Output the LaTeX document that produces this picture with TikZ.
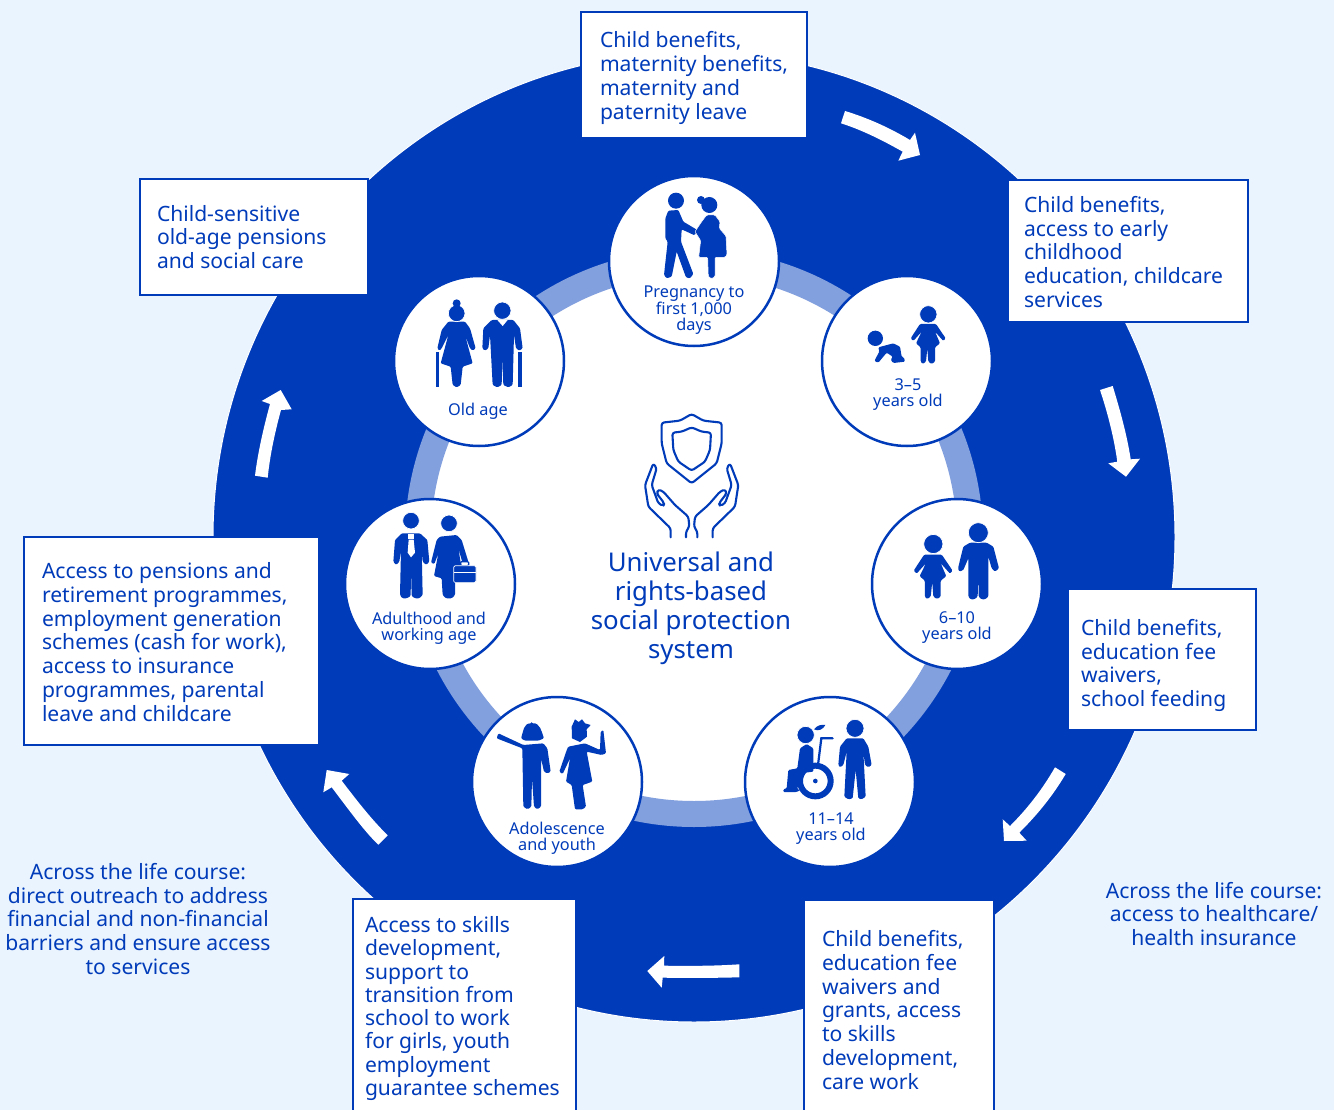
\documentclass[tikz,border=0pt]{standalone}
\usepackage{fontspec}
\setmainfont{Noto Sans}
\definecolor{bgc}{HTML}{EAF4FE}
\definecolor{blu}{HTML}{003BB9}
\definecolor{rng}{HTML}{829FDE}
\newcommand\ibox[7]{%
\pgfmathsetmacro\ibw{#4-#2}\pgfmathsetmacro\ibh{#5-#3}\pgfmathsetmacro\ibx{(#2+#4)/2}\pgfmathsetmacro\iby{(#3+#5)/2}%
\node[infobox,minimum width=\ibw pt,minimum height=\ibh pt] (#1) at (\ibx,\iby) {\parbox[c]{\ibw pt}{\leftskip=#6pt \rightskip=0pt plus 1fil\relax\parindent=0pt #7}};}
\newcommand\kidgirl[3]{%
\begin{scope}[shift={(#1,#2)},scale=#3]
\fill[icon] (-25,29)--(23,29)--(52,72)--(45,80)--(20,52)--(35,87)--(20,99)--(20,142)--(10,149)--(0,142)--(-3,102)--(-7,142)--(-17,149)--(-23,142)--(-23,99)--(-37,87)--(-20,52)--(-45,80)--(-53,72)--cycle;
\fill[icon,head] (0,0) circle (26);
\end{scope}}
\tikzset{
 x=1pt,y=-1pt,
 infobox/.style={draw=blu,fill=white,line width=2.5pt,inner sep=0pt,outer sep=0pt,text=blu,font=\fontsize{21.1}{23.9}\selectfont},
 stage/.style={circle,draw=blu,fill=white,line width=2.5pt,minimum size=170pt,inner sep=0pt,outer sep=0pt},
 stagelabel/.style={text=blu,align=center,inner sep=0pt,font=\fontsize{16.3}{16.5}\selectfont},
 freetext/.style={text=blu,align=center,inner sep=0pt,font=\fontsize{21.1}{23.9}\selectfont},
 turn/.style={fill=white},
 icon/.style={fill=blu,rounded corners=1.1pt},
 head/.style={draw=white,line width=0.7pt},
 zoomed/.style={scale=0.33333},
 emblem/.style={draw=blu,line width=2.1pt,rounded corners=2.5pt,line cap=round,line join=round},
}
\begin{document}
\begin{tikzpicture}
\lineskiplimit=-8pt \normallineskiplimit=-8pt
\useasboundingbox (0,0) rectangle (1334,1110);
\fill[bgc] (0,0) rectangle (1334,1110);
% disc and ring
\path[fill=blu,draw=white,line width=1pt] (694,537) ellipse [x radius=481,y radius=485];
\fill[white] (694,538) circle (276);
\draw[rng,line width=26pt] (694,538) circle (276);
% arrows
\fill[turn] (845,111) .. controls (868,118) and (890,128) .. (910,140) -- (915,132.7) -- (920,155) -- (898.3,160.7) -- (902.7,151.7) .. controls (882,140) and (862,130) .. (841,123.3) -- cycle;
\fill[turn] (1112.7,386) .. controls (1120,410) and (1127,435) .. (1130.7,459.3) -- (1140,458.7) -- (1126,476.7) -- (1108.3,463.3) -- (1117.3,461.7) .. controls (1114,438) and (1108,414) .. (1100,390) -- cycle;
\fill[turn] (1065.7,774) .. controls (1052,797) and (1037,815) .. (1019.3,832.7) -- (1026.7,840.7) -- (1004,841) -- (1002.7,819.3) -- (1010,826) .. controls (1027,809) and (1042,790) .. (1055,767.3) -- cycle;
\fill[turn] (739.3,964.3) .. controls (715,966) and (690,966) .. (664,965.7) -- (664.3,956) -- (647.3,971) -- (661.7,987.7) -- (662.7,977.7) .. controls (690,978) and (715,978) .. (739.3,977.3) -- cycle;
\fill[turn] (378.3,844.7) .. controls (364,831) and (349,810) .. (331.7,787.3) -- (323.3,792.3) -- (326.7,770) -- (349.3,774) -- (341.7,780.7) .. controls (358,802) and (372,820) .. (387.7,835.3) -- cycle;
\fill[turn] (255,475.7) .. controls (258,452) and (263,430) .. (270,404) -- (261.7,401) -- (280.7,390) -- (291.7,409.3) -- (281,410) .. controls (275,432) and (270,455) .. (267.7,477.7) -- cycle;
% stages
\node[stage] (s1) at (694,261) {};
\node[stage] (s2) at (907,361) {};
\node[stage] (s3) at (957,584) {};
\node[stage] (s4) at (830,782) {};
\node[stage] (s5) at (557,782) {};
\node[stage] (s6) at (430,584) {};
\node[stage] (s7) at (479,361) {};
% stage labels
\node[stagelabel] (l1) at (694,310.5) {Pregnancy to\\first 1,000\\days};
\node[stagelabel] (l2) at (908,394.5) {3–5\\years old};
\node[stagelabel] (l3) at (957,627.5) {6–10\\years old};
\node[stagelabel] (l4) at (831,828.5) {11–14\\years old};
\node[stagelabel] (l5) at (557,838.5) {Adolescence\\and youth};
\node[stagelabel] (l6) at (429,628.5) {Adulthood and\\working age};
\node[stagelabel] (l7) at (478,411) {Old age};
% pregnancy icon
\begin{scope}[shift={(600,170)},zoomed]
\fill[icon] (196,145)--(205,122)--(235,120)--(250,155)--(292,180)--(284,196)--(245,178)--(243,215)--(280,312)--(270,325)--(258,322)--(230,245)--(215,320)--(200,325)--(192,315)--(203,215)--(196,205)--cycle;
\fill[icon,draw=white,line width=0.5pt] (305,155)--(320,135)--(345,135)--(360,155)--(358,175)--(378,198)--(381,255)--(375,262)--(345,262)--(345,320)--(335,326)--(325,320)--(323,262)--(296,262)--(302,212)--(285,185)--cycle;
\fill[icon] (228,92) circle (24);
\fill[icon] (328,105) circle (24);
\fill[icon] (303,90) circle (12);
\end{scope}
% toddler icon
\begin{scope}[shift={(600,170)},zoomed]
\fill[icon] (835,532)--(880,520)--(900,530)--(905,560)--(912,563)--(915,575)--(880,579)--(872,570)--(878,560)--(860,548)--(835,578)--(823,573)--(838,545)--cycle;
\fill[icon] (826,505) circle (23);
\kidgirl{985}{433}{1}
\end{scope}
% 6-10 icon
\begin{scope}[shift={(620,400)},zoomed]
\kidgirl{940}{432}{1.11}
\fill[icon] (1030,440)--(1050,428)--(1100,428)--(1120,440)--(1137,505)--(1125,515)--(1115,505)--(1105,470)--(1105,590)--(1095,598)--(1085,598)--(1076,590)--(1075,522)--(1073,590)--(1063,598)--(1052,598)--(1045,590)--(1045,475)--(1030,510)--(1018,515)--(1014,505)--cycle;
\fill[icon,head] (1075,398) circle (30);
\end{scope}
% 11-14 icon
\begin{scope}[shift={(460,690)},zoomed]
\fill[icon] (1140,170)--(1160,145)--(1210,145)--(1225,170)--(1235,225)--(1225,232)--(1215,225)--(1210,185)--(1217,320)--(1205,328)--(1195,325)--(1187,240)--(1178,325)--(1165,328)--(1153,320)--(1160,185)--(1150,225)--(1140,232)--(1135,225)--cycle;
\fill[icon,head] (1185,115) circle (27);
\fill[icon] (1020,175)--(1040,162)--(1060,175)--(1060,245)--(1020,250)--(1012,298)--(1022,300)--(1010,306)--(970,306)--(970,298)--(980,295)--(985,240)--(1012,235)--cycle;
\draw[blu,line width=6pt] (1066,273) circle (46);
\fill[blu] (1066,273) circle (7);
\draw[blu,line width=2.2pt,line cap=round] (1074,225) -- (1084,145) -- (1118,145);
\fill[blu] (1062,118) .. controls (1072,105) and (1085,103) .. (1096,105) .. controls (1090,118) and (1075,125) .. (1062,118) -- cycle;
\fill[icon,head] (1037,135) circle (26);
\end{scope}
% adolescence icon
\begin{scope}[shift={(460,690)},zoomed]
\fill[icon] (190,165)--(250,160)--(262,175)--(272,245)--(262,250)--(252,245)--(243,205)--(243,350)--(232,358)--(222,350)--(216,265)--(214,350)--(203,358)--(190,350)--(187,175)--(110,145)--(115,130)--cycle;
\fill[icon] (215,100) .. controls (240,98) and (245,125) .. (252,145) -- (235,152) -- (195,152) -- (183,145) .. controls (190,125) and (190,100) .. (215,100) -- cycle;
\fill[icon] (325,170)--(375,160)--(420,180)--(422,125)--(430,120)--(438,190)--(425,195)--(380,185)--(397,275)--(368,285)--(378,350)--(368,358)--(345,358)--(335,285)--(318,275)--(330,205)--(308,252)--(298,245)--(322,175)--cycle;
\fill[blu] (335,110)--(345,88)--(356,96)--(366,88)--(375,100)--(392,105)--(380,118)--(381,140)--(360,156)--(336,145)--cycle;
\end{scope}
% adulthood icon
\begin{scope}[shift={(340,270)},zoomed]
\fill[icon] (165,810)--(185,790)--(240,790)--(262,810)--(268,875)--(258,885)--(248,875)--(245,840)--(248,975)--(238,985)--(225,985)--(215,978)--(213,895)--(212,978)--(200,985)--(187,985)--(180,975)--(183,840)--(178,875)--(168,885)--(160,875)--cycle;
\fill[white] (205,792)--(222,792)--(222,806)--(205,806)--cycle;
\fill[white] (206,809)--(221,809)--(225,848)--(213,862)--(203,848)--cycle;
\fill[icon,head] (213,752) circle (25);
\fill[icon] (300,800)--(350,795)--(365,810)--(385,875)--(378,882)--(368,880)--(355,835)--(370,925)--(345,925)--(345,975)--(335,985)--(318,985)--(308,975)--(305,925)--(282,918)--(295,850)--(283,882)--(273,878)--(290,810)--cycle;
\fill[icon,head] (327,760) circle (25);
\draw[blu,line width=1.2pt,fill=white,rounded corners=1pt] (362,887) rectangle (386,875);
\draw[white,line width=0.7pt,fill=blu,rounded corners=1.5pt] (341,887) rectangle (408,938);
\draw[white,line width=0.7pt] (341,906) -- (408,906);
\end{scope}
% old age icon
\begin{scope}[shift={(340,270)},zoomed]
\fill[icon] (305,180)--(325,155)--(375,155)--(390,175)--(407,235)--(398,242)--(390,235)--(375,195)--(398,280)--(368,290)--(362,345)--(350,352)--(338,345)--(332,290)--(302,280)--(325,195)--(305,235)--(298,242)--(292,235)--cycle;
\fill[icon,head] (350,130) circle (25);
\fill[blu] (350,100) circle (12);
\draw[blu,line width=3.2pt] (292,247) -- (292,350);
\fill[icon] (430,175)--(455,150)--(520,150)--(540,175)--(548,235)--(538,242)--(528,235)--(522,195)--(518,345)--(505,352)--(490,345)--(487,265)--(485,345)--(472,352)--(458,345)--(450,195)--(445,235)--(435,242)--(427,235)--cycle;
\fill[white] (472,150)--(488,168)--(503,150)--cycle;
\fill[icon,head] (487,122) circle (26);
\draw[blu,line width=3.2pt] (540,247) -- (540,350);
\end{scope}
% emblem
\begin{scope}[shift={(620,400)},zoomed]
\draw[emblem] (215,42) -- (180,62) -- (125,68) -- (125,130) -- (140,190) -- (215,250) -- (290,190) -- (305,130) -- (305,68) -- (250,62) -- cycle;
\draw[emblem] (215,82) -- (185,95) -- (157,98) -- (160,150) -- (175,185) -- (215,212) -- (255,185) -- (270,150) -- (273,98) -- (245,95) -- cycle;
\foreach \m/\o in {1/0,-1/430}{
\begin{scope}[shift={(\o,0)},xscale=\m]
\draw[emblem] (152,412) -- (152,385) -- (85,320) -- (75,255) -- (100,190) -- (110,205) -- (95,255) -- (115,310) -- (130,318) -- (133,310) -- (110,280) -- (115,268) -- (130,275) -- (165,315) -- (205,350) -- (208,380) -- (198,395) -- (198,412);
\end{scope}}
\end{scope}
\node[text=blu,align=center,inner sep=0pt,font=\fontsize{25.8}{29.1}\selectfont] (title) at (691,608) {Universal and\\rights-based\\social protection\\system};
% boxes
\ibox{b1}{581}{12}{807}{138}{19}{\vspace*{6pt}Child benefits,\\maternity benefits,\\maternity and\\paternity leave}
\ibox{b2}{1008}{180}{1248}{322}{16}{\vspace*{2pt}Child benefits,\\access to early\\childhood\\education, childcare\\services}
\ibox{b3}{1068}{589}{1256}{730}{13}{\baselineskip=23.7pt \vspace*{12pt}Child benefits,\\education fee\\waivers,\\school feeding}
\ibox{b4}{804}{900}{994}{1120}{18}{Child benefits,\\education fee\\waivers and\\grants, access\\to skills\\development,\\care work}
\ibox{b5}{353}{899}{576}{1118}{12}{\baselineskip=23.3pt Access to skills\\development,\\support to\\transition from\\school to work\\for girls, youth\\employment\\guarantee schemes}
\ibox{b6}{24}{537}{319}{745}{18}{\vspace*{2pt}Access to pensions and\\retirement programmes,\\employment generation\\schemes (cash for work),\\access to insurance\\programmes, parental\\leave and childcare}
\ibox{b7}{140}{179}{368}{295}{17}{Child-sensitive\\old-age pensions\\and social care}
\node[freetext] (a1) at (138,919) {Across the life course:\\direct outreach to address\\financial and non-financial\\barriers and ensure access\\to services};
\node[freetext] (a2) at (1214,914) {Across the life course:\\access to healthcare/\\health insurance};
\end{tikzpicture}
\end{document}
